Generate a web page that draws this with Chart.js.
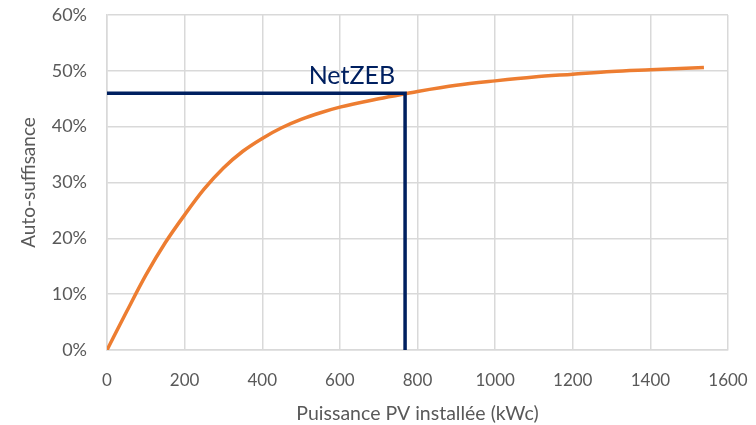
<!DOCTYPE html>
<html>
<head>
<meta charset="utf-8">
<script src="https://cdn.jsdelivr.net/npm/chart.js@4"></script>
<style>
  html, body { margin: 0; padding: 0; background: #fff; }
  #wrap { width: 756px; height: 425px; }
</style>
</head>
<body>
<div id="wrap"><canvas id="graficoAuto"></canvas></div>
<script>
// Puissance PV installée (kWc) et auto-suffisance
const puissance = [0, 50, 100, 150, 200, 250, 300, 350, 400, 450, 500, 550, 600, 700, 768, 800, 900, 1000, 1100, 1200, 1300, 1400, 1538];
const autoSuff  = [0, 0.068, 0.134, 0.192, 0.242, 0.288, 0.326, 0.356, 0.379, 0.398, 0.413, 0.425, 0.435, 0.450, 0.459, 0.463, 0.474, 0.482, 0.489, 0.494, 0.499, 0.502, 0.506];

// point NetZEB
const netZebX = 768;
const netZebY = 0.46;
const netZebLabel = 'NetZEB';

const xTicks = [0, 200, 400, 600, 800, 1000, 1200, 1400, 1600];
const yTicks = [0, 0.1, 0.2, 0.3, 0.4, 0.5, 0.6];

const font = 'Lato, "Open Sans", sans-serif';
const gris = '#595959';

const labelNetZeb = {
  id: 'labelNetZeb',
  afterDatasetsDraw(chart) {
    const { ctx, scales } = chart;
    const x = scales.x.getPixelForValue(netZebX);
    const y = scales.y.getPixelForValue(netZebY);
    ctx.save();
    ctx.font = '25px ' + font;
    ctx.fillStyle = '#002060';
    ctx.textAlign = 'right';
    ctx.textBaseline = 'alphabetic';
    ctx.fillText(netZebLabel, x - 10, y - 9);
    ctx.restore();
  }
};

function renderChart() {
  const ctx = document.getElementById('graficoAuto');
  if (!ctx) return;

  new Chart(ctx, {
    type: 'scatter',
    data: {
      datasets: [{
        label: 'Auto-suffisance',
        data: puissance.map((p, i) => ({ x: p, y: autoSuff[i] })),
        showLine: true,
        borderColor: '#ED7D31',
        borderWidth: 3.5,
        pointRadius: 0,
        cubicInterpolationMode: 'monotone',
        order: 2
      }, {
        label: netZebLabel,
        data: [{ x: 0, y: netZebY }, { x: netZebX, y: netZebY }, { x: netZebX, y: 0 }],
        showLine: true,
        borderColor: '#002060',
        borderWidth: 3.5,
        pointRadius: 0,
        tension: 0,
        order: 1
      }]
    },
    plugins: [labelNetZeb],
    options: {
      responsive: true,
      maintainAspectRatio: false,
      animation: false,
      layout: { padding: { top: 15, right: 28, left: 17, bottom: 0 } },
      plugins: {
        legend: { display: false },
        tooltip: { enabled: false }
      },
      scales: {
        x: {
          type: 'linear',
          min: 0,
          max: 1600,
          afterBuildTicks: s => { s.ticks = xTicks.map(v => ({ value: v })); },
          afterFit: s => { s.height = 75; s.paddingLeft = 0; s.paddingRight = 0; },
          grid: { color: '#D9D9D9', lineWidth: 1.5, drawTicks: false },
          border: { color: '#D9D9D9', width: 1.5 },
          ticks: { color: gris, font: { family: font, size: 17 }, padding: 20, maxRotation: 0, callback: v => String(v) },
          title: { display: true, text: 'Puissance PV installée (kWc)', color: gris, font: { family: font, size: 19.5 }, padding: { top: 6, bottom: 0 } }
        },
        y: {
          min: 0,
          max: 0.6,
          afterBuildTicks: s => { s.ticks = yTicks.map(v => ({ value: v })); },
          afterFit: s => { s.width = 90; s.paddingTop = 0; s.paddingBottom = 0; },
          grid: { color: '#D9D9D9', lineWidth: 1.5, drawTicks: false },
          border: { color: '#D9D9D9', width: 1.5 },
          ticks: {
            color: gris,
            font: { family: font, size: 18 },
            padding: 20,
            callback: v => Math.round(v * 100) + '%'
          },
          title: { display: true, text: 'Auto-suffisance', color: gris, font: { family: font, size: 19 }, padding: { top: 0, bottom: 4 } }
        }
      }
    }
  });
}

renderChart();
</script>
</body>
</html>
